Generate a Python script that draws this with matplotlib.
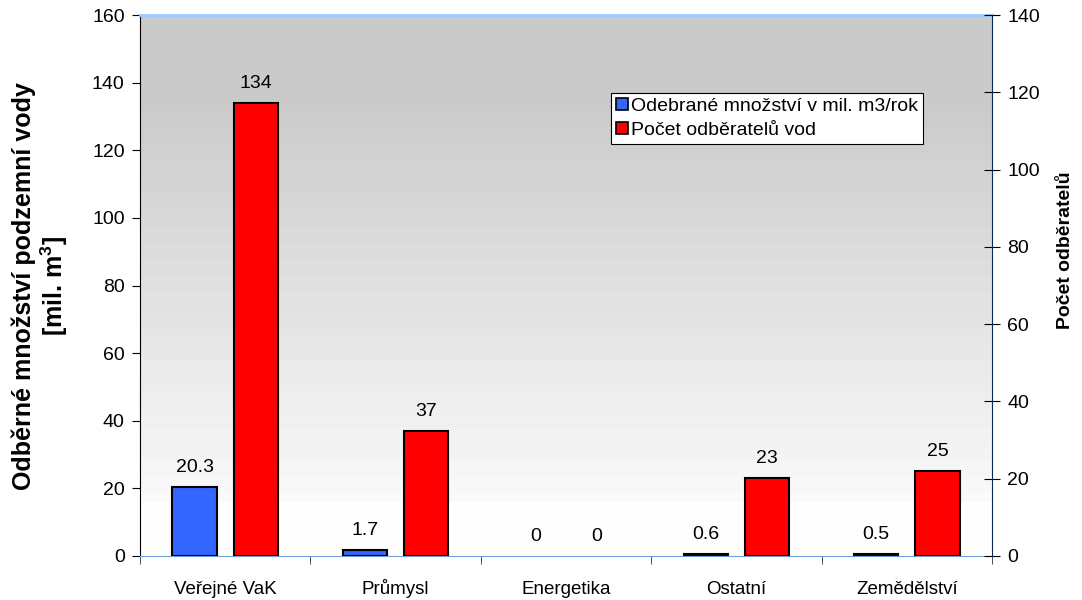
import numpy as np
import matplotlib
matplotlib.use("Agg")
from matplotlib import pyplot as plt
from matplotlib.patches import Patch

plt.rcParams['font.family'] = ['Liberation Sans', 'DejaVu Sans']
plt.rcParams['mathtext.fontset'] = 'custom'
plt.rcParams['mathtext.rm'] = 'Liberation Sans'
plt.rcParams['mathtext.bf'] = 'Liberation Sans:bold'

# odběry podzemní vody podle sektorů
categories = ['Veřejné VaK', 'Průmysl', 'Energetika', 'Ostatní', 'Zemědělství']
mnozstvi = [20.3, 1.7, 0, 0.6, 0.5]      # mil. m3/rok
odberatele = [134, 37, 0, 23, 25]        # počet odběratelů
mnozstvi_labels = ['20.3', '1.7', '0', '0.6', '0.5']
odberatele_labels = ['134', '37', '0', '23', '25']
left_ticks = [0, 20, 40, 60, 80, 100, 120, 140, 160]
right_ticks = [0, 20, 40, 60, 80, 100, 120, 140]

blue = '#3366ff'
red = '#ff0000'

fig = plt.figure(figsize=(10.82, 6.0), dpi=100)
ax = fig.add_axes([140 / 1082, 44 / 600, 852 / 1082, 541 / 600])
ax2 = ax.twinx()

# šedý přechod pozadí: nahoře tmavší, dole bílá
rows = np.linspace(0, 1, 541)
t = np.clip((rows - 0.16) / (0.9 - 0.16), 0, 1)
shade = 203 + 48 * t
shade[rows > 0.9] = 255
shade = np.floor(shade / 2.0) * 2.0
shade = np.clip(shade, 0, 255) / 255.0
grad = np.repeat(shade[:, None], 2, axis=1)
ax.imshow(grad, cmap='gray', vmin=0, vmax=1, aspect='auto',
          extent=(0, 1, 0, 1), transform=ax.transAxes, zorder=0,
          interpolation='nearest')

x = np.arange(len(categories))
off = 0.18
w = 0.26
for xi, v, lab in zip(x, mnozstvi, mnozstvi_labels):
    ax.bar(xi - off, v, width=w, color=blue, edgecolor='black',
           linewidth=1.5 if v > 0 else 0, zorder=2)
    ax.annotate(lab, (xi - off, v), xytext=(0, 8), textcoords='offset points',
                ha='center', va='bottom', fontsize=14)
for xi, v, lab in zip(x, odberatele, odberatele_labels):
    ax.bar(xi + off, v, width=w, color=red, edgecolor='black',
           linewidth=1.5 if v > 0 else 0, zorder=2)
    ax.annotate(lab, (xi + off, v), xytext=(0, 8), textcoords='offset points',
                ha='center', va='bottom', fontsize=14)

ax.set_xlim(-0.5, len(categories) - 0.5)
ax.set_ylim(0, 160)
ax.set_yticks(left_ticks)
ax.tick_params(axis='y', labelsize=14, length=6, pad=5, direction='out')
ax.set_xticks(x)
ax.set_xticklabels(categories)
for lab in ax.get_xticklabels():
    lab.set_verticalalignment('baseline')
ax.set_xticks(np.arange(-0.5, len(categories)), minor=True)
ax.tick_params(axis='x', which='major', length=0, labelsize=13.5, pad=27)
ax.tick_params(axis='x', which='minor', length=6, color='#333333')

ax2.set_ylim(0, 140)
ax2.set_yticks(right_ticks)
ax2.tick_params(axis='y', labelsize=14, length=12, pad=5, direction='inout')

ax.spines['top'].set_color('#99ccff')
ax.spines['top'].set_linewidth(2)
ax.spines['left'].set_color('black')
ax.spines['bottom'].set_color('#6f9fd8')
ax.spines['right'].set_visible(False)
for s in ['top', 'left', 'bottom']:
    ax2.spines[s].set_visible(False)
ax2.spines['right'].set_color('#0a2a5a')

fig.text(41 / 1082, 1 - 286 / 600,
         'Odběrné množství podzemní vody\n[mil. m$^{\\mathbf{3}}$]',
         rotation=90, ha='center', va='center', multialignment='center',
         fontsize=18, fontweight='bold', linespacing=1.12)
fig.text(1066 / 1082, 1 - 250 / 600, 'Počet odběratelů', rotation=90,
         ha='center', va='center', fontsize=14, fontweight='bold')

handles = [Patch(facecolor=blue, edgecolor='black', linewidth=1.2),
           Patch(facecolor=red, edgecolor='black', linewidth=1.2)]
leg = fig.legend(handles, ['Odebrané množství v mil. m3/rok', 'Počet odběratelů vod'],
                 loc='upper left', bbox_to_anchor=(611 / 1082, 1 - 93 / 600),
                 fontsize=14, frameon=True, fancybox=False, framealpha=1,
                 edgecolor='black', borderpad=0.25, handlelength=0.6,
                 handleheight=0.6, handletextpad=0.2, labelspacing=0.35,
                 borderaxespad=0)
leg.get_frame().set_linewidth(0.8)

fig.savefig('out.png', dpi=100)
